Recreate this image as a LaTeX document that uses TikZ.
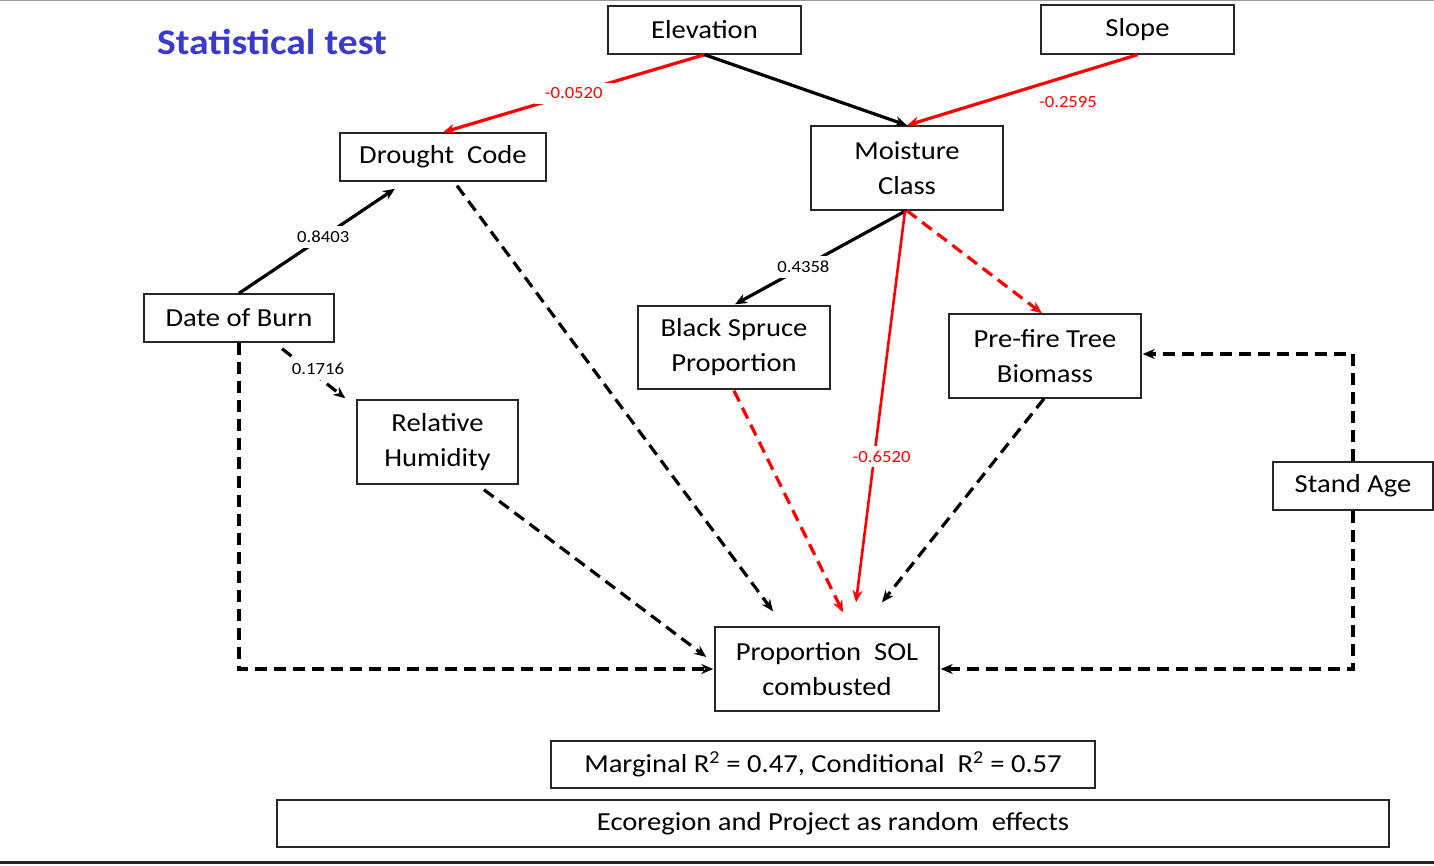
\documentclass[tikz,border=0pt]{standalone}
\usepackage{fontspec}
\setmainfont{Carlito}[FakeStretch=1.1]
\usetikzlibrary{arrows.meta,positioning,calc}
\definecolor{titleblue}{RGB}{58,58,205}
\definecolor{pathred}{RGB}{255,0,0}
\tikzset{
  box/.style={draw=black!85, line width=1.4pt, fill=white, align=center, inner sep=0pt,
    font=\fontsize{26}{35}\selectfont},
  lbl/.style={fill=white, inner sep=5pt, font=\fontsize{17}{20}\selectfont},
  tip/.style={-{Stealth[length=12pt,width=10pt]}},
  solidblack/.style={tip, draw=black, line width=3.2pt},
  solidred/.style={tip, draw=pathred, line width=3.2pt},
  dashblack/.style={tip, draw=black, line width=3.2pt, dash pattern=on 12pt off 7pt},
  dashred/.style={tip, draw=pathred, line width=3.2pt, dash pattern=on 12pt off 7pt},
}
\begin{document}
\begin{tikzpicture}[x=1pt,y=-1pt]
\useasboundingbox (0,0) rectangle (1434,865);
\fill[white] (0,0) rectangle (1434,865);
% frame lines
\draw[black!40, line width=1.5pt] (0,0.7) -- (1434,0.7);
\draw[black!85, line width=3pt] (0,862) -- (1434,862);
% title
\node[font=\bfseries\fontsize{36}{40}\selectfont, text=titleblue] (title) at (272,42) {Statistical test};
% nodes
\node[box, minimum width=193pt, minimum height=48pt] (elev) at (704.5,30) {Elevation};
\node[box, minimum width=193pt, minimum height=49pt] (slope) at (1137.5,29.5) {Slope};
\node[box, minimum width=206pt, minimum height=48pt] (drought) at (443,157) {Drought\ \ Code};
\node[box, minimum width=192pt, minimum height=84pt] (moist) at (907,168) {Moisture\\Class};
\node[box, minimum width=190pt, minimum height=48pt] (date) at (239,318) {Date of Burn};
\node[box, minimum width=192pt, minimum height=83pt] (bsp) at (734,347.5) {Black Spruce\\Proportion};
\node[box, minimum width=192pt, minimum height=84pt] (pre) at (1045,356) {Pre-fire Tree\\Biomass};
\node[box, minimum width=161pt, minimum height=84pt] (rh) at (437.5,442) {Relative\\Humidity};
\node[box, minimum width=160pt, minimum height=48pt] (stand) at (1353,486) {Stand Age};
\node[box, minimum width=224pt, minimum height=84pt] (sol) at (827,669) {Proportion\ \ SOL\\combusted};
\node[box, minimum width=544pt, minimum height=47pt] (r2) at (823,764.5) {Marginal R\textsuperscript{2} = 0.47, Conditional\ \ R\textsuperscript{2} = 0.57};
\node[box, minimum width=1112pt, minimum height=47pt] (eco) at (833,823.5) {Ecoregion and Project as random\ \ effects};
% edges
\draw[solidred] (elev.south) -- node[lbl, text=pathred, inner xsep=10pt] (l1) {-0.0520} (drought.north);
\draw[solidblack] (elev.south) -- (moist.north);
\draw[solidred] (slope.south) -- (moist.north);
\node[lbl, text=pathred] (l2) at (1068,102) {-0.2595};
\draw[solidblack] (date.north) -- node[lbl, pos=0.54] (l3) {0.8403} ([xshift=-48pt,yshift=-7pt]drought.south);
\draw[dashblack] ([xshift=43pt,yshift=-6pt]date.south) -- ([xshift=-11pt,yshift=1pt]rh.north west);
\node[lbl] (l4) at (318,369) {0.1716};
\draw[dashblack] (date.south) |- ([xshift=-1pt]sol.west);
\draw[dashblack] ([xshift=46.5pt,yshift=-5pt]rh.south) -- ([xshift=-8pt,yshift=12pt]sol.west);
\draw[dashblack] ([xshift=14pt,yshift=-4pt]drought.south) -- ([xshift=-54pt,yshift=15pt]sol.north);
\draw[solidblack] ([xshift=-1pt]moist.south) -- node[lbl, pos=0.6] (l5) {0.4358} ([xshift=1pt,yshift=1pt]bsp.north);
\draw[dashred] ([yshift=-1pt]bsp.south) -- ([xshift=16pt,yshift=14pt]sol.north);
\draw[solidred, line width=2.6pt] ([xshift=-2pt]moist.south) -- node[lbl, text=pathred, pos=0.62, xshift=7pt, yshift=-3pt] (l6) {-0.6520} ([xshift=29pt,yshift=24pt]sol.north);
\draw[dashred] (moist.south) -- ([xshift=-3pt]pre.north);
\draw[dashblack] ([xshift=-1pt]pre.south) -- ([xshift=55pt,yshift=24pt]sol.north);
\draw[dashblack] (stand.north) |- ([xshift=1pt,yshift=2pt]pre.east);
\draw[dashblack] (stand.south) |- ([xshift=1pt]sol.east);
\end{tikzpicture}
\end{document}
